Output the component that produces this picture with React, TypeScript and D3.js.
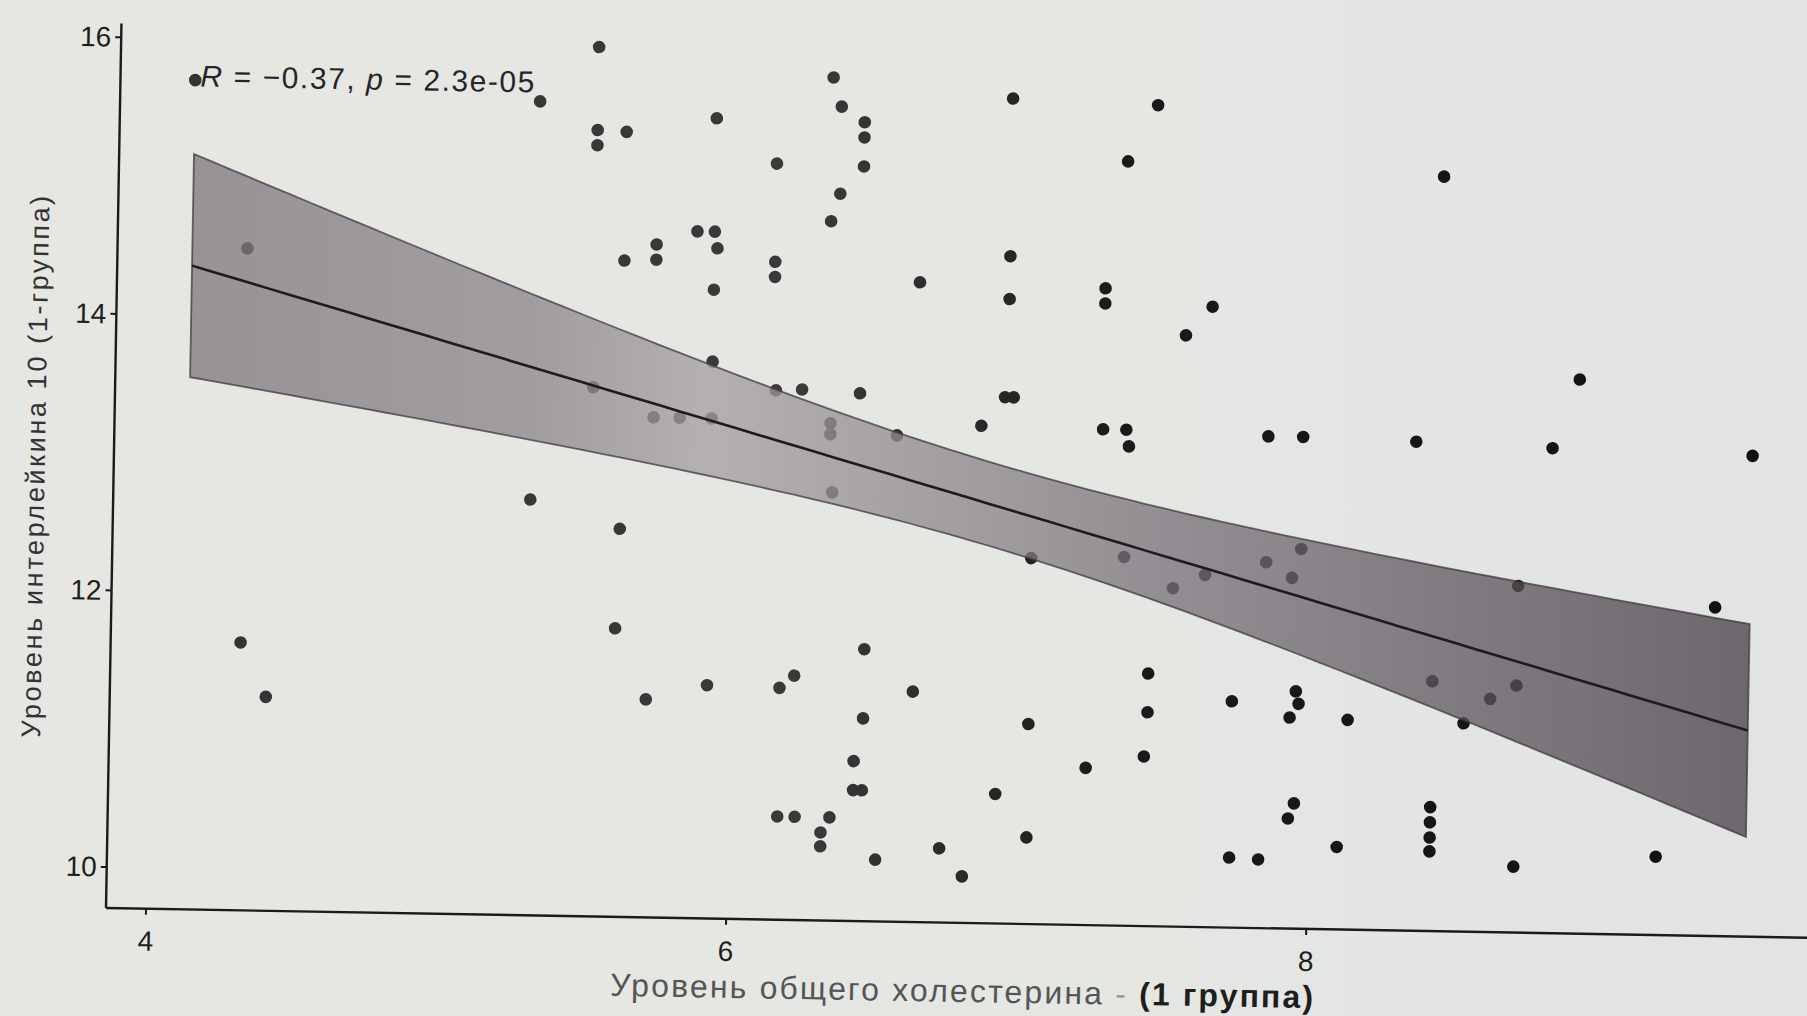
import React, { useEffect } from 'react';
import * as d3 from 'd3';

// Total cholesterol (x) and interleukin-10 (y), group 1
const cholesterol = [
  4.12, 4.31, 4.31, 4.40, 5.31, 5.30, 5.51, 5.51, 5.51, 5.61,
  5.61, 5.72, 5.72, 5.51, 5.61, 5.60, 5.71, 5.72, 5.81, 5.92,
  5.86, 5.92, 5.93, 5.92, 5.92, 5.92, 5.92, 6.13, 6.13, 6.13,
  6.14, 6.23, 6.22, 6.17, 6.17, 6.23, 6.35, 6.32, 6.32, 6.32,
  6.35, 6.43, 6.43, 6.43, 6.35, 6.32, 6.43, 6.33, 6.33, 6.34,
  6.56, 6.46, 6.46, 6.43, 6.43, 6.46, 6.51, 6.63, 6.63, 6.73,
  6.81, 6.85, 6.94, 6.94, 6.94, 6.93, 6.96, 7.03, 7.03, 6.92,
  7.03, 7.23, 7.27, 7.27, 7.34, 7.44, 7.27, 7.35, 7.36, 7.35,
  7.52, 7.63, 7.55, 7.64, 7.44, 7.44, 7.43, 7.73, 7.73, 7.83,
  7.84, 7.96, 7.84, 7.96, 7.93, 7.95, 7.96, 7.93, 7.95, 7.93,
  8.10, 8.13, 8.35, 8.43, 8.42, 8.42, 8.42, 8.42, 8.42, 8.53,
  8.62, 8.71, 8.71, 8.71, 8.82, 8.91, 9.20, 9.39, 9.51,
];
const interleukin = [
  15.70, 14.49, 11.64, 11.25, 15.59, 12.71, 15.99, 15.39, 15.28, 15.38,
  14.45, 14.57, 14.46, 13.53, 12.51, 11.79, 11.28, 13.32, 13.32, 13.32,
  14.67, 14.67, 14.55, 15.49, 14.25, 13.73, 11.39, 15.17, 14.46, 14.35,
  13.53, 13.54, 11.47, 11.38, 10.45, 10.45, 10.45, 10.34, 10.24, 15.80,
  15.59, 15.48, 15.37, 15.16, 14.96, 14.76, 13.52, 13.30, 13.22, 12.80,
  13.22, 11.67, 11.17, 10.86, 10.65, 10.65, 10.15, 14.33, 11.37, 10.24,
  10.04, 13.30, 15.67, 14.53, 14.22, 13.51, 13.51, 12.35, 11.15, 10.64,
  10.33, 10.84, 14.31, 14.20, 15.23, 15.64, 13.29, 13.29, 13.17, 12.37,
  12.15, 12.25, 13.98, 14.19, 11.53, 11.25, 10.93, 11.34, 10.21, 10.20,
  13.26, 13.26, 12.35, 12.45, 12.24, 11.42, 11.33, 11.23, 10.61, 10.50,
  10.30, 11.22, 13.24, 15.16, 11.51, 10.60, 10.49, 10.38, 10.28, 11.21,
  11.39, 11.49, 12.21, 10.18, 13.21, 13.71, 10.27, 12.08, 13.18,
];
const xTicks = [4, 6, 8];
const yTicks = [10, 12, 14, 16];
const xTitleMain = 'Уровень общего холестерина';
const xTitleGroup = '(1 группа)';
const yTitle = 'Уровень интерлейкина 10 (1-группа)';
const corR = '−0.37';
const corP = '2.3e-05';

const W = 1807;
const H = 1016;
const OX = 106; // axis corner
const OY = 908;
const TILT = 1.0; // the photographed page is turned slightly
const FONT = '"Liberation Sans", Arial, Helvetica, sans-serif';

export default function App() {
  useEffect(() => {
    document.body.style.margin = '0';
    document.body.style.overflow = 'hidden';
  }, []);

  const x = d3.scaleLinear().domain([4, 8]).range([146, 1306.4]);
  const y = d3.scaleLinear().domain([10, 16]).range([867, 37.2]);

  const pts = cholesterol.map((c, i) => ({ x: c, y: interleukin[i] }));
  const n = pts.length;
  const mx = d3.mean(cholesterol) as number;
  const my = d3.mean(interleukin) as number;
  const sxx = d3.sum(cholesterol, (v) => (v - mx) ** 2);
  const sxy = d3.sum(pts, (p) => (p.x - mx) * (p.y - my));
  const b = sxy / sxx;
  const a = my - b * mx;
  const sse = d3.sum(pts, (p) => (p.y - a - b * p.x) ** 2);
  const s = Math.sqrt(sse / (n - 2));
  const tq = 1.981;
  const [xmin, xmax] = d3.extent(cholesterol) as [number, number];
  const grid = d3.range(81).map((i) => xmin + ((xmax - xmin) * i) / 80);
  const band = grid.map((g) => {
    const se = s * Math.sqrt(1 / n + (g - mx) ** 2 / sxx);
    const f = a + b * g;
    return { x: g, f, lo: f - tq * se, hi: f + tq * se };
  });
  const area = d3
    .area<{ x: number; lo: number; hi: number }>()
    .x((d) => x(d.x))
    .y0((d) => y(d.lo))
    .y1((d) => y(d.hi));
  const line = d3
    .line<{ x: number; f: number }>()
    .x((d) => x(d.x))
    .y((d) => y(d.f));

  return (
    <svg
      width={W}
      height={H}
      viewBox={`0 0 ${W} ${H}`}
      style={{ position: 'absolute', left: 0, top: 0, display: 'block' }}
    >
      <defs>
        <linearGradient id="bg" x1="0" y1="0" x2="1" y2="0">
          <stop offset="0%" stopColor="#e6e7e3" />
          <stop offset="60%" stopColor="#e5e7e3" />
          <stop offset="100%" stopColor="#e1e4e3" />
        </linearGradient>
        <linearGradient id="ribbon" gradientUnits="userSpaceOnUse" x1="180" y1="0" x2="1750" y2="0">
          <stop offset="0%" stopColor="#7d767c" />
          <stop offset="22%" stopColor="#8a8489" />
          <stop offset="33%" stopColor="#a49ea2" />
          <stop offset="45%" stopColor="#928c90" />
          <stop offset="60%" stopColor="#7a737a" />
          <stop offset="100%" stopColor="#463e45" />
        </linearGradient>
        <linearGradient id="dots" gradientUnits="userSpaceOnUse" x1="150" y1="0" x2="1760" y2="0">
          <stop offset="0%" stopColor="#333" />
          <stop offset="40%" stopColor="#3a3a3a" />
          <stop offset="60%" stopColor="#1a1a1a" />
          <stop offset="100%" stopColor="#101010" />
        </linearGradient>
      </defs>
      <rect x={0} y={0} width={W} height={H} fill="url(#bg)" />
      <g transform={`rotate(${TILT}, ${OX}, ${OY})`} fontFamily={FONT}>
        {/* points */}
        <g fill="url(#dots)">
          {pts.map((p, i) => (
            <circle key={i} cx={x(p.x)} cy={y(p.y)} r={6.3} />
          ))}
        </g>
        {/* confidence band and fit */}
        <path
          d={area(band) || ''}
          fill="url(#ribbon)"
          fillOpacity={0.75}
          stroke="#3f393d"
          strokeOpacity={0.75}
          strokeWidth={1.8}
        />
        <path d={line(band) || ''} fill="none" stroke="#1f1a1e" strokeWidth={2.6} />

        {/* axes */}
        <line x1={OX} y1={OY} x2={1900} y2={OY} stroke="#1b1b1b" strokeWidth={2.4} />
        <line x1={OX} y1={OY} x2={OX} y2={y(16.1)} stroke="#1b1b1b" strokeWidth={2.4} />
        {xTicks.map((t) => (
          <g key={`xt${t}`}>
            <line x1={x(t)} x2={x(t)} y1={OY} y2={OY + 6} stroke="#1b1b1b" strokeWidth={2} />
            <text x={x(t)} y={OY + 42} textAnchor="middle" fontSize={28} fill="#1e1e1e">
              {t}
            </text>
          </g>
        ))}
        {yTicks.map((t) => (
          <g key={`yt${t}`}>
            <line x1={OX - 6} x2={OX} y1={y(t)} y2={y(t)} stroke="#1b1b1b" strokeWidth={2} />
            <text
              x={OX - 10}
              y={y(t)}
              textAnchor="end"
              dominantBaseline="central"
              fontSize={28}
              fill="#1e1e1e"
            >
              {t}
            </text>
          </g>
        ))}

        {/* correlation label */}
        <text x={186} y={85} fontSize={30} fill="#262626" textLength={334} lengthAdjust="spacing">
          <tspan fontStyle="italic">R</tspan>
          <tspan>{` = ${corR}, `}</tspan>
          <tspan fontStyle="italic">p</tspan>
          <tspan>{` = ${corP}`}</tspan>
        </text>

        {/* axis titles */}
        <text
          x={963}
          y={987}
          textAnchor="middle"
          fontSize={32}
          textLength={703}
          lengthAdjust="spacing"
        >
          <tspan fill="#555">{xTitleMain}</tspan>
          <tspan fill="#999">{' - '}</tspan>
          <tspan fill="#1e1e1e" fontWeight="bold">{xTitleGroup}</tspan>
        </text>
        <text
          transform="translate(28, 468) rotate(-90)"
          textAnchor="middle"
          dominantBaseline="central"
          fontSize={27}
          fill="#333"
          textLength={542}
          lengthAdjust="spacing"
        >
          {yTitle}
        </text>
      </g>
    </svg>
  );
}
